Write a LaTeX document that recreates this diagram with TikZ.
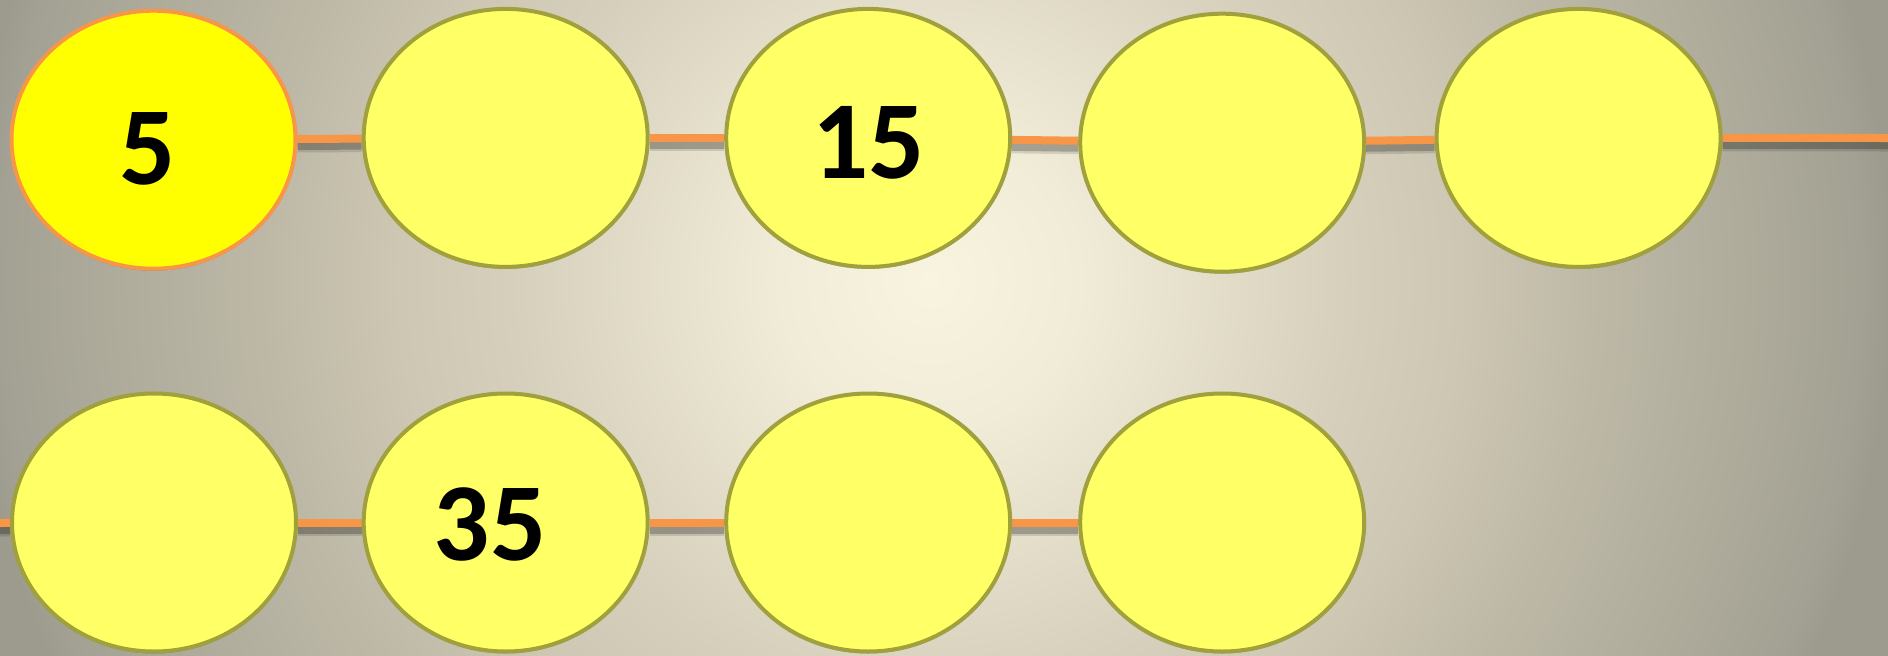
\documentclass[tikz,border=0pt]{standalone}
\usepackage{fontspec}
\setmainfont{Carlito}
\usetikzlibrary{shapes.geometric,shadows}
\definecolor{bgA}{HTML}{F8F4E0}
\definecolor{bgB}{HTML}{F1ECD8}
\definecolor{bgC}{HTML}{D5CFBB}
\definecolor{bgD}{HTML}{CDC7B3}
\definecolor{bgE}{HTML}{BDB8A6}
\definecolor{bgF}{HTML}{AFAC9C}
\definecolor{bgG}{HTML}{A3A193}
\definecolor{bgH}{HTML}{9D9B8D}
\definecolor{beadfill}{HTML}{FFFF66}
\definecolor{beadedge}{HTML}{A0A03C}
\definecolor{firstfill}{HTML}{FFFF00}
\definecolor{linkorange}{HTML}{F79646}
\pgfdeclareradialshading{bgshade}{\pgfpoint{0bp}{0bp}}{color(0bp)=(bgA); color(3.75bp)=(bgB); color(10.5bp)=(bgC); color(13.25bp)=(bgD); color(16.75bp)=(bgE); color(20.25bp)=(bgF); color(23.25bp)=(bgG); color(24bp)=(bgH); color(50bp)=(bgH)}
\pgfdeclarelayer{bg}
\pgfdeclarelayer{links}
\pgfsetlayers{bg,links,main}
\tikzset{
  bead/.style={ellipse, draw=beadedge, line width=4pt, fill=beadfill,
    minimum width=284pt, minimum height=258pt, inner sep=0pt,
    drop shadow={shadow xshift=0pt, shadow yshift=-2pt, opacity=0.25, fill=black}},
  firstbead/.style={bead, draw=linkorange, fill=firstfill},
  numtext/.style={font=\bfseries\fontsize{111}{111}\selectfont, inner sep=0pt, text=black},
  link/.style={draw=linkorange, line width=8pt},
  linkshadowwide/.style={draw=black, opacity=0.12, line width=13pt, transform canvas={yshift=-7pt}},
  linkshadow/.style={draw=black, opacity=0.22, line width=8pt, transform canvas={yshift=-7pt}}
}
\begin{document}
\begin{tikzpicture}[x=1pt,y=-1pt]
\useasboundingbox (0,0) rectangle (1888,656);
\begin{pgfonlayer}{bg}
  \begin{scope}
    \clip (0,0) rectangle (1888,656);
    \fill[bgH] (0,0) rectangle (1888,656);
    \shade[shading=bgshade] (-70,-720) rectangle (1930,1280);
  \end{scope}
\end{pgfonlayer}

% top row
\node[firstbead] (e1) at (153.5,139.7) {};
\node[bead] (e2) at (505.7,137.9) {};
\node[bead] (e3) at (868.2,137.9) {};
\node[bead] (e4) at (1222.2,142.7) {};
\node[bead] (e5) at (1578.6,137.9) {};
% bottom row
\node[bead] (e6) at (154,522.5) {};
\node[bead] (e7) at (505.7,522.5) {};
\node[bead] (e8) at (868.2,522.5) {};
\node[bead] (e9) at (1222.2,522.5) {};

% numbers
\node[numtext] (t1) at (147.5,149) {5};
\node[numtext] (t3) at (868.7,143.3) {15};
\node[numtext] (t7) at (490,524.4) {35};

\coordinate (rEnd) at (1888,138);
\coordinate (lEnd) at (0,523);

\begin{pgfonlayer}{links}
  \foreach \a/\b in {e1/e2,e2/e3,e3/e4,e4/e5,e5/rEnd,lEnd/e6,e6/e7,e7/e8,e8/e9}{
    \draw[linkshadowwide] (\a) -- (\b);
    \draw[linkshadow] (\a) -- (\b);
    \draw[link] (\a) -- (\b);
  }
\end{pgfonlayer}
\end{tikzpicture}
\end{document}
